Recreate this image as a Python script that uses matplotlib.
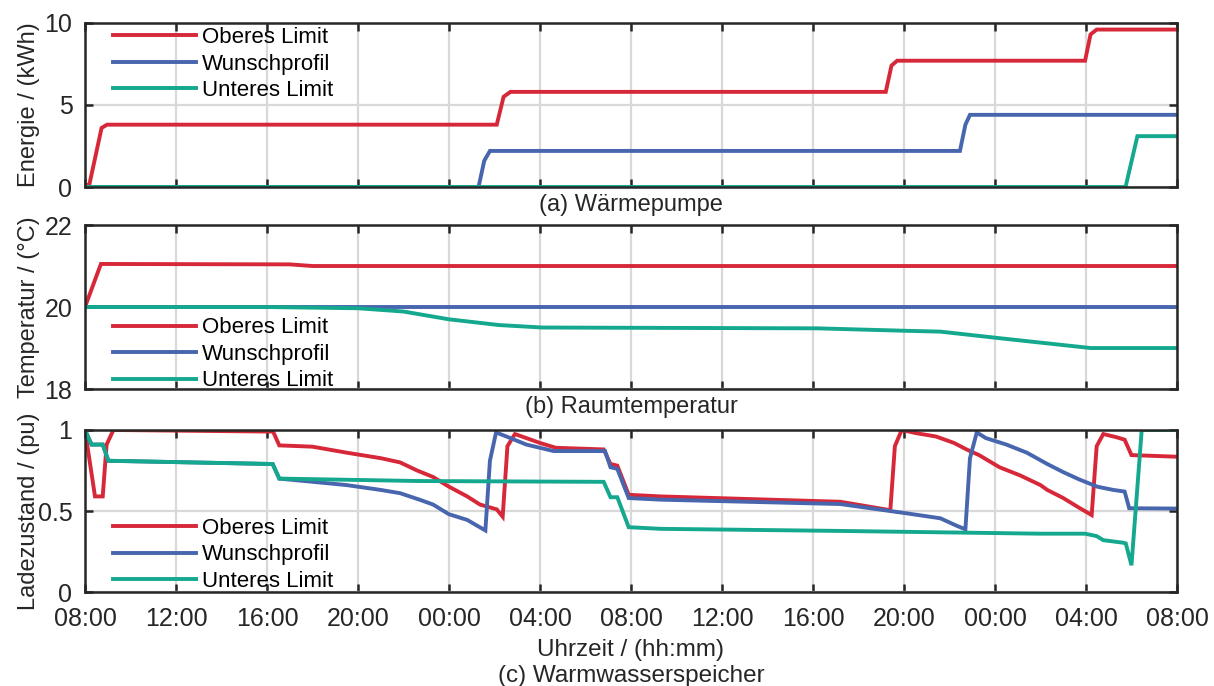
import matplotlib
matplotlib.use('Agg')
import matplotlib.pyplot as plt

plt.rcParams['font.family'] = ['Liberation Sans', 'DejaVu Sans']

# time axis in hours after 08:00 on day 1
tick_hours = [0, 4, 8, 12, 16, 20, 24, 28, 32, 36, 40, 44, 48]
tick_labels = ['08:00', '12:00', '16:00', '20:00', '00:00', '04:00', '08:00',
               '12:00', '16:00', '20:00', '00:00', '04:00', '08:00']
series_names = ['Oberes Limit', 'Wunschprofil', 'Unteres Limit']

# (a) Waermepumpe, energy in kWh
hp_red_t = [0, 0.2, 0.73, 0.97, 18.1, 18.4, 18.7, 35.2, 35.45, 35.7, 43.96, 44.2, 44.47, 48]
hp_red = [0, 0.2, 3.6, 3.8, 3.8, 5.5, 5.8, 5.8, 7.4, 7.7, 7.7, 9.3, 9.6, 9.6]
hp_blue_t = [0, 17.3, 17.55, 17.8, 38.46, 38.7, 38.9, 48]
hp_blue = [0, 0, 1.6, 2.2, 2.2, 3.8, 4.4, 4.4]
hp_teal_t = [0, 45.74, 46.26, 48]
hp_teal = [0, 0, 3.1, 3.1]

# (b) Raumtemperatur in degC
rt_red_t = [0, 0.7, 9, 10, 48]
rt_red = [20, 21.05, 21.04, 21.0, 21.0]
rt_blue_t = [0, 48]
rt_blue = [20, 20]
rt_teal_t = [0, 8, 12, 14, 16, 18.2, 20.1, 32.2, 36.1, 37.6, 40.2, 44.2, 48]
rt_teal = [20, 20, 19.97, 19.89, 19.70, 19.56, 19.5, 19.48, 19.42, 19.40, 19.24, 19.0, 19.0]

# (c) Warmwasserspeicher, state of charge in pu
ww_red_t = [0, 0.44, 0.78, 0.95, 1.25, 8.27, 8.54, 10.0, 11.5, 13.0, 13.85, 14.6, 15.3,
            16.0, 16.8, 17.36, 18.1, 18.36, 18.57, 18.9, 19.4, 20.0, 20.7, 22.8, 23.1,
            23.4, 23.9, 25.3, 33.2, 35.4, 35.6, 35.9, 36.55, 37.4, 38.2, 38.75, 39.3,
            40.2, 41.1, 42.0, 42.3, 43.0, 43.7, 44.25, 44.47, 44.76, 45.35, 45.7, 46.0, 48]
ww_red = [1.0, 0.59, 0.59, 0.91, 1.0, 0.99, 0.905, 0.897, 0.86, 0.826, 0.80, 0.75, 0.71,
          0.65, 0.59, 0.54, 0.51, 0.465, 0.90, 0.975, 0.95, 0.92, 0.89, 0.88, 0.79,
          0.78, 0.60, 0.59, 0.557, 0.505, 0.90, 1.0, 0.98, 0.96, 0.92, 0.88, 0.845,
          0.77, 0.72, 0.66, 0.63, 0.58, 0.52, 0.475, 0.90, 0.975, 0.955, 0.94, 0.845, 0.835]
ww_blue_t = [0, 0.29, 0.78, 1.03, 8.25, 8.54, 11.5, 13.0, 13.85, 14.7, 15.3, 16.0, 16.8,
             17.6, 17.8, 18.07, 18.7, 19.4, 20.6, 22.86, 23.1, 23.4, 23.9, 25.3, 33.2,
             36.1, 37.6, 38.3, 38.7, 38.9, 39.2, 39.6, 40.5, 41.4, 42.3, 43.0, 43.7,
             44.5, 45.2, 45.7, 45.9, 48]
ww_blue = [1.0, 0.91, 0.91, 0.81, 0.79, 0.70, 0.66, 0.63, 0.61, 0.57, 0.54, 0.48, 0.445,
           0.38, 0.81, 0.985, 0.95, 0.91, 0.87, 0.87, 0.77, 0.76, 0.58, 0.57, 0.543,
           0.486, 0.455, 0.41, 0.387, 0.825, 0.985, 0.95, 0.91, 0.86, 0.79, 0.74, 0.695,
           0.65, 0.63, 0.62, 0.517, 0.515]
ww_teal_t = [0, 0.29, 0.78, 1.03, 8.25, 8.54, 14.7, 22.8, 23.1, 23.4, 23.9, 25.3, 33.2,
             42.0, 43.96, 44.47, 44.76, 45.6, 45.75, 46.0, 46.45, 48]
ww_teal = [1.0, 0.91, 0.91, 0.81, 0.79, 0.70, 0.685, 0.68, 0.585, 0.585, 0.40, 0.39, 0.377,
           0.36, 0.36, 0.345, 0.32, 0.305, 0.30, 0.165, 1.0, 1.0]

colors = ['#D62839', '#4866AE', '#14A88E']
lw = 2.8
txt = '#262626'

fig = plt.figure(figsize=(12.14, 6.86), dpi=100)
ax1 = fig.add_axes([0.070, 0.7274, 0.8995, 0.2391])
ax2 = fig.add_axes([0.070, 0.4329, 0.8995, 0.2391])
ax3 = fig.add_axes([0.070, 0.1370, 0.8995, 0.2362])

panels = [
    (ax1, [(hp_red_t, hp_red), (hp_blue_t, hp_blue), (hp_teal_t, hp_teal)],
     (0, 10), [0, 5, 10], ['0', '5', '10'], 'Energie / (kWh)', '(a) Wärmepumpe'),
    (ax2, [(rt_red_t, rt_red), (rt_blue_t, rt_blue), (rt_teal_t, rt_teal)],
     (18, 22), [18, 20, 22], ['18', '20', '22'], 'Temperatur / (°C)', '(b) Raumtemperatur'),
    (ax3, [(ww_red_t, ww_red), (ww_blue_t, ww_blue), (ww_teal_t, ww_teal)],
     (0, 1), [0, 0.5, 1], ['0', '0.5', '1'], 'Ladezustand / (pu)', None),
]

for ax, lines, ylim, yt, ytl, ylab, title in panels:
    for (t, v), c, name in zip(lines, colors, series_names):
        ax.plot(t, v, color=c, lw=lw, label=name, solid_joinstyle='miter')
    ax.set_xlim(0, 48)
    ax.set_ylim(*ylim)
    ax.set_xticks(tick_hours)
    ax.set_yticks(yt)
    ax.set_yticklabels(ytl)
    ax.grid(True, color='#d9d9d9', lw=1.6)
    ax.set_axisbelow(True)
    ax.tick_params(direction='in', top=True, right=True, length=6, width=1.8,
                   labelsize=18, colors=txt, pad=9)
    for s in ax.spines.values():
        s.set_linewidth(1.8)
        s.set_color(txt)
    ax.set_ylabel(ylab, fontsize=17, color=txt)
    ax.yaxis.set_label_coords(-0.041, 0.5)
    if title:
        ax.text(0.5, -0.11, title, transform=ax.transAxes, ha='center', va='center',
                fontsize=17, color=txt)

ax1.set_xticklabels([])
ax2.set_xticklabels([])
ax3.set_xticklabels(tick_labels)
ax3.tick_params(axis='x', pad=11)

leg_kw = dict(frameon=False, fontsize=16, handlelength=3.7, handletextpad=0.3,
              labelspacing=0.25, borderpad=0, borderaxespad=0)
ax1.legend(loc='upper left', bbox_to_anchor=(0.026, 0.975), **leg_kw)
ax2.legend(loc='lower left', bbox_to_anchor=(0.026, -0.015), **leg_kw)
ax3.legend(loc='lower left', bbox_to_anchor=(0.026, 0.0), **leg_kw)

ax3.text(0.5, -0.355, 'Uhrzeit / (hh:mm)', transform=ax3.transAxes, ha='center',
         va='center', fontsize=17.5, color=txt)
ax3.text(0.5, -0.52, '(c) Warmwasserspeicher', transform=ax3.transAxes, ha='center',
         va='center', fontsize=17.5, color=txt)

fig.savefig('out.png', dpi=100)
